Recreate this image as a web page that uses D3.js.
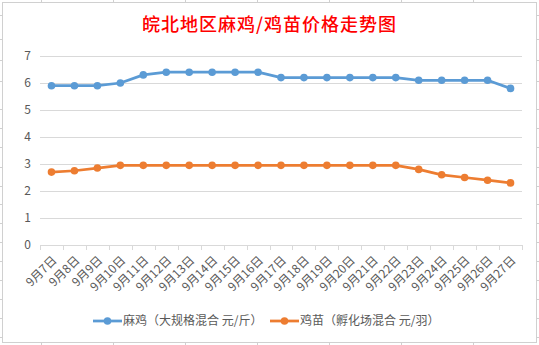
<!DOCTYPE html>
<html><head><meta charset="utf-8">
<script src="https://cdn.jsdelivr.net/npm/d3@7/dist/d3.min.js"></script>
<style>
html,body{margin:0;padding:0;background:#fff;}
svg{display:block;font-family:"Noto Sans CJK SC","Noto Sans",sans-serif;}
</style></head>
<body><svg id="c" width="539" height="345"></svg>
<script>
const categories = ["9月7日","9月8日","9月9日","9月10日","9月11日","9月12日","9月13日","9月14日","9月15日","9月16日","9月17日","9月18日","9月19日","9月20日","9月21日","9月22日","9月23日","9月24日","9月25日","9月26日","9月27日"];
const majiValues = [5.9,5.9,5.9,6.0,6.3,6.4,6.4,6.4,6.4,6.4,6.2,6.2,6.2,6.2,6.2,6.2,6.1,6.1,6.1,6.1,5.8];
const jimiaoValues = [2.7,2.75,2.85,2.95,2.95,2.95,2.95,2.95,2.95,2.95,2.95,2.95,2.95,2.95,2.95,2.95,2.8,2.6,2.5,2.4,2.3];
const yTicks = [0,1,2,3,4,5,6,7];
const seriesNames = ["麻鸡（大规格混合 元/斤）","鸡苗（孵化场混合 元/羽）"];
const titleText = "皖北地区麻鸡/鸡苗价格走势图";

const svg = d3.select("#c");
const grey = "#595959", gridC = "#d9d9d9";

// spreadsheet stubs outside chart area
const stubX = [41,113,185,257,329,401,473];
const stubY = [15,39,60,81,109,128,147,167,186,204,223,242,261,280,299,318,337];
stubX.forEach(x=>{
  svg.append("line").attr("x1",x+0.5).attr("x2",x+0.5).attr("y1",0).attr("y2",2).attr("stroke","#d0d0d0");
  svg.append("line").attr("x1",x+0.5).attr("x2",x+0.5).attr("y1",343).attr("y2",345).attr("stroke","#d0d0d0");
});
stubY.forEach(y=>{
  svg.append("line").attr("x1",0).attr("x2",3).attr("y1",y+0.5).attr("y2",y+0.5).attr("stroke","#d0d0d0");
  svg.append("line").attr("x1",537).attr("x2",539).attr("y1",y+0.5).attr("y2",y+0.5).attr("stroke","#d0d0d0");
});
// chart border
svg.append("rect").attr("x",2.5).attr("y",2.5).attr("width",534).attr("height",340)
  .attr("fill","#fff").attr("stroke","#d0d0d0");

const x = d3.scaleBand().domain(categories).range([40,522]);
const y = d3.scaleLinear().domain([0,7]).range([245,56]);

// gridlines
svg.append("g").selectAll("line").data(yTicks.filter(d=>d>0)).join("line")
  .attr("x1",40).attr("x2",522)
  .attr("y1",d=>Math.round(y(d))+0.5).attr("y2",d=>Math.round(y(d))+0.5)
  .attr("stroke",gridC).attr("stroke-width",1);

// y labels
svg.append("g").selectAll("text").data(yTicks).join("text")
  .attr("x",31).attr("y",d=>y(d)).attr("dy","0.35em")
  .attr("text-anchor","end").attr("font-size",12).attr("fill",grey)
  .text(d=>d);

// x axis
svg.append("line").attr("x1",40).attr("x2",522).attr("y1",245.5).attr("y2",245.5).attr("stroke",gridC);
const bounds = categories.map(c=>x(c)).concat([x(categories[categories.length-1])+x.bandwidth()]);
svg.append("g").selectAll("line").data(bounds).join("line")
  .attr("x1",d=>Math.round(d)+0.5).attr("x2",d=>Math.round(d)+0.5)
  .attr("y1",245).attr("y2",250).attr("stroke",gridC);

svg.append("g").selectAll("text").data(categories).join("text")
  .attr("transform",c=>`translate(${x(c)+x.bandwidth()/2+3},${258}) rotate(-45)`)
  .attr("text-anchor","end").attr("dy","0.35em")
  .attr("font-size",12).attr("fill",grey).text(c=>c);

// series
const cx = c=>x(c)+x.bandwidth()/2;
const series = [
  {vals: majiValues, color:"#5b9bd5"},
  {vals: jimiaoValues, color:"#ed7d31"}
];
const line = d3.line().x((d,i)=>cx(categories[i])).y(d=>y(d));
series.forEach(s=>{
  svg.append("path").datum(s.vals).attr("d",line)
    .attr("fill","none").attr("stroke",s.color).attr("stroke-width",2.75).attr("stroke-linejoin","round");
  svg.append("g").selectAll("circle").data(s.vals).join("circle")
    .attr("cx",(d,i)=>cx(categories[i])).attr("cy",d=>y(d)).attr("r",3.8).attr("fill",s.color);
});

// title
svg.append("text").attr("x",269.5).attr("y",31).attr("text-anchor","middle")
  .attr("font-size",18).attr("font-weight","500").attr("letter-spacing","1px")
  .attr("fill","#ff0000").text(titleText);

// legend
const legX = [93,270];
series.forEach((s,i)=>{
  const g = svg.append("g").attr("transform",`translate(${legX[i]},321)`);
  g.append("line").attr("x1",0).attr("x2",29).attr("y1",0).attr("y2",0).attr("stroke",s.color).attr("stroke-width",2.75);
  g.append("circle").attr("cx",14.5).attr("cy",0).attr("r",3.8).attr("fill",s.color);
  g.append("text").attr("x",30).attr("y",0).attr("dy","0.35em").attr("font-size",12).attr("fill",grey).text(seriesNames[i]);
});
</script></body></html>
